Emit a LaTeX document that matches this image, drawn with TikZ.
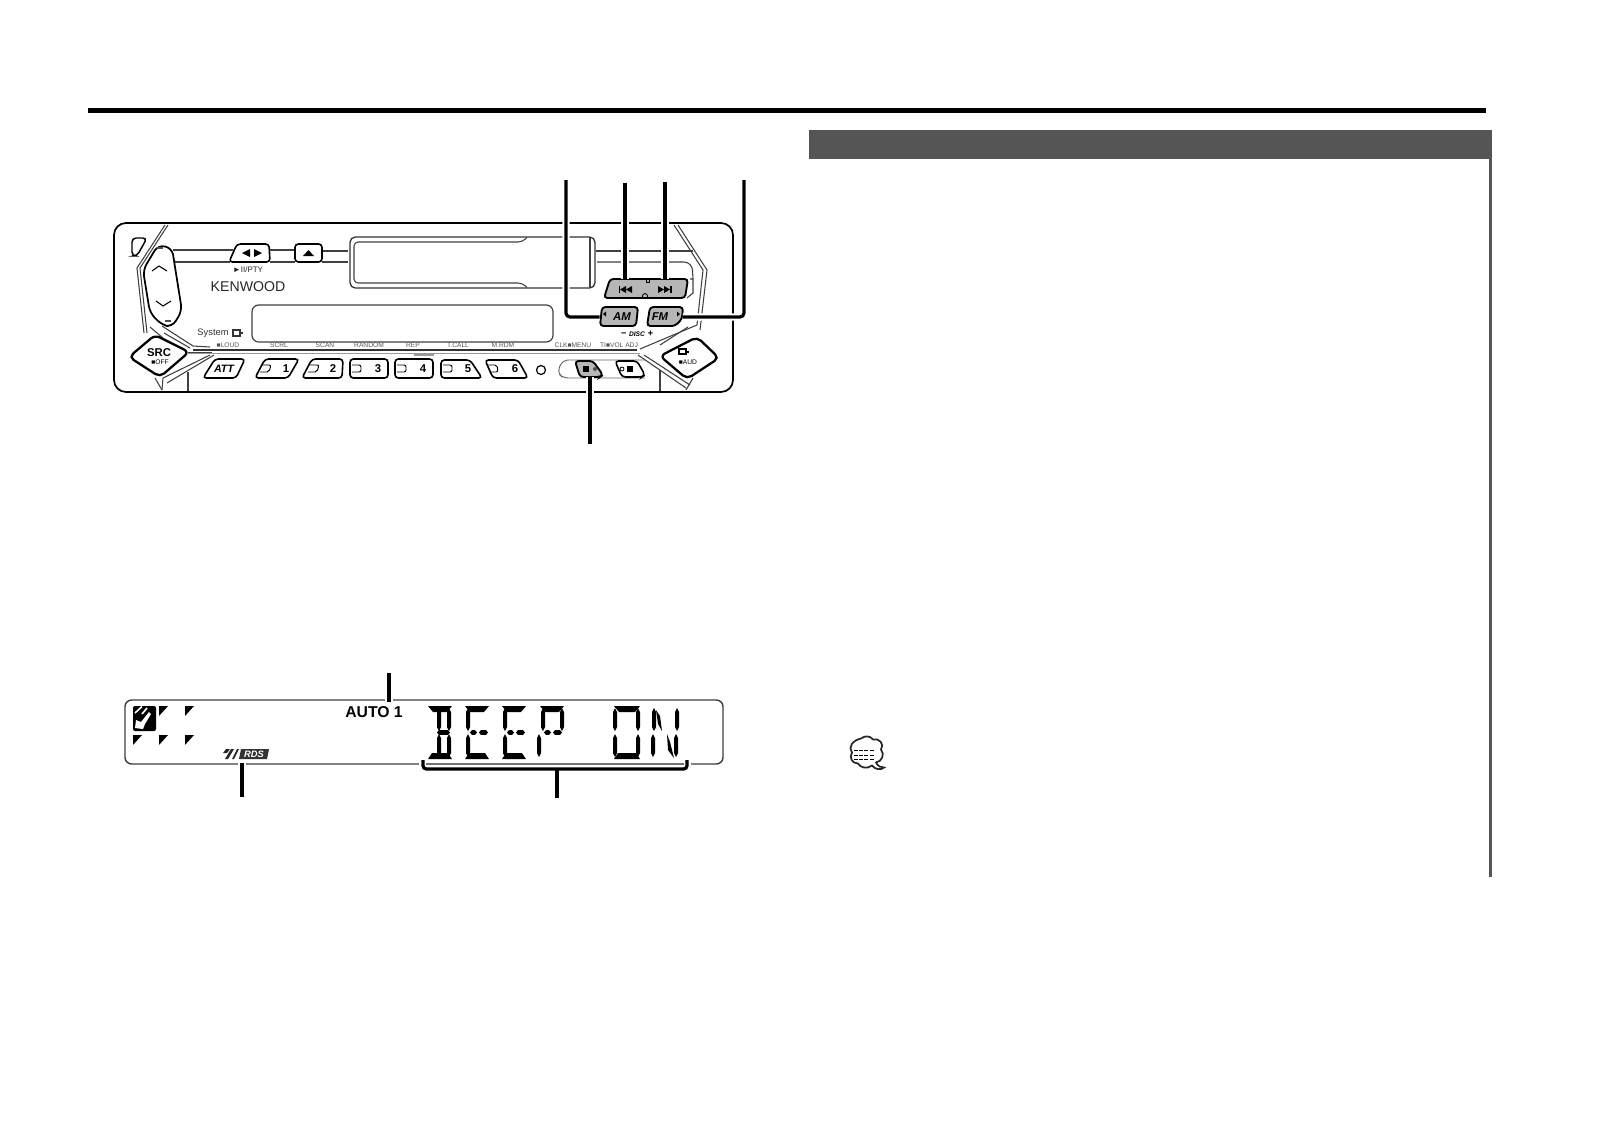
\documentclass[tikz,border=0pt]{standalone}
\usepackage{fontspec}
\setmainfont{Liberation Sans}
\usepackage{xcolor}
\definecolor{barcolor}{HTML}{555555}
\definecolor{keygray}{HTML}{B6B6B6}
\definecolor{printgray}{HTML}{555555}
\newcommand{\vseg}[3]{\fill (#1+2,#2) -- (#1+4,#2+4) -- (#1+4,#3-4) -- (#1+2,#3) -- (#1,#3-4) -- (#1,#2+4) -- cycle;}
\newcommand{\hseg}[3]{\fill (#1,#3) -- (#1+2,#3-2.4) -- (#2-2,#3-2.4) -- (#2,#3) -- (#2-2,#3+2.4) -- (#1+2,#3+2.4) -- cycle;}
\newcommand{\topseg}[2]{\fill (#1,706) -- (#2,706) -- (#2-5,712) -- (#1+5,712) -- cycle;}
\newcommand{\botseg}[2]{\fill (#1,759) -- (#2,759) -- (#2-4,753) -- (#1+4,753) -- cycle;}
\tikzset{
  casing/.style={line width=1.3pt,rounded corners=9pt},
  trim/.style={line width=0.8pt,color=black!75},
  keycap/.style={line width=1.2pt,rounded corners=2.5pt,fill=white},
  graycap/.style={line width=1.4pt,rounded corners=2.5pt,fill=keygray},
  keytext/.style={font=\fontsize{8.5}{9}\selectfont\bfseries,inner sep=0pt},
  capprint/.style={font=\fontsize{5}{6}\selectfont,color=printgray,inner sep=0pt},
  leader/.style={line width=2.4pt,rounded corners=3pt,preaction={draw=white,line width=5.5pt}},
}
\begin{document}
\begin{tikzpicture}[x=1pt*0.75,y=1pt*0.75,yscale=-1,xscale=1]
\useasboundingbox (0,0) rectangle (1604,1140);

%Page rule and side bar
\fill (88,108) rectangle (1486,113);
\fill [barcolor] (809,130) rectangle (1492,159);
\fill [barcolor] (1489,159) rectangle (1492,877);

%Casing
\draw [casing] (114,223) rectangle (733,392);
\draw [line width=1.1pt,rounded corners=3pt] (132,238) -- (147,238) -- (137,256) -- (132,256) -- cycle;

%Left trim
\draw [trim] (168,225) -- (140,268) -- (147,333);
\draw [trim] (165,225) -- (137,268) -- (144,333);
\draw [trim] (150,327) -- (163,338);
\draw [trim] (162,326) -- (193,346) -- (210,347);
\draw [trim] (164,333) -- (190,348);
\draw [trim] (188,353) -- (212,353);
\draw [trim] (163,378) -- (210,355);
\draw [trim] (167,383) -- (214,355);
\draw [trim] (155,378) -- (162,390);
\draw [trim] (163,378) -- (162,390);
\draw [trim] (188,372) -- (188,391);

%Right trim
\draw [trim] (678,225) -- (707,270) -- (700,330);
\draw [trim] (674,225) -- (703,270) -- (697,325);
\draw [trim] (697,325) -- (640,349);
\draw [trim] (688,327) -- (660,345);
\draw [trim] (638,355) -- (686,388);
\draw [trim] (644,355) -- (690,385);
\draw [trim] (693,378) -- (686,390);
\draw [trim] (660,370) -- (660,391);

%Mode lines between the cassette door and the keys
\draw [trim] (173,250) -- (233,250);
\draw [trim] (175,262) -- (230,262);
\draw [trim] (270,250) -- (295,250);
\draw [trim] (270,262) -- (295,262);
\draw [trim] (322,251) -- (348,251);
\draw [trim] (322,262) -- (348,262);
\draw [trim] (596,251) -- (693,251);
\draw [trim,rounded corners=6pt] (597,262) -- (692,262) -- (693,279);
\draw [trim] (690,279) -- (693,279) -- (693,293) -- (687,298);

%Cassette door
\draw [line width=1pt,color=black!80,rounded corners=4pt] (350,262) -- (350,237) -- (595,237) -- (595,288) -- (350,288) -- cycle;
\draw [trim,rounded corners=3pt] (527,237.5) -- (522,242) -- (354,242) -- (354,283) -- (522,283) -- (527,287.5);
\draw [trim,rounded corners=3pt] (590,237) -- (590,288);

%Window
\draw [line width=0.9pt,color=black!75,rounded corners=5pt] (252,305) rectangle (553,342);

%Long divider above the keys
\draw [line width=1.7pt,color=black!80] (193,350) -- (637,350);
\draw [line width=0.7pt,color=black!40] (188,353) -- (640,353);
\draw [line width=0.8pt,color=black!40] (414,355) -- (434,355);

%Volume key
\draw [line width=1.3pt,rounded corners=5pt,fill=white] (158,245) -- (172,248) -- (182,311) -- (172,327) -- (162,325) -- (150,313) -- (143,270) -- cycle;
\draw [line width=0.8pt] (152,271) -- (159,266) -- (167,271);
\draw [line width=0.8pt] (156,301) -- (163,306) -- (171,301);
\draw [line width=1pt,color=black!70] (157,248) -- (163,248);
\draw [line width=1pt,color=black!70] (165,321) -- (171,321);

%Source and audio keys
\draw [line width=1.7pt,rounded corners=4pt,fill=white] (129,357) -- (155,335) -- (189,352) -- (160,377) -- cycle;
\draw (159,353) node (srclabel) [keytext] {SRC};
\draw (160,362) node (offlabel) [capprint,color=black] {■OFF};
\draw [line width=1.7pt,rounded corners=4pt,fill=white] (660,356) -- (697,337) -- (719,358) -- (687,379) -- cycle;
\draw [line width=0.8pt] (679,349) rectangle (686,354) (686,352) -- (689,352);
\draw (688,362) node (audlabel) [capprint,color=black] {■AUD};

%Play and eject keys
\draw [keycap] (237,244) -- (269,244) -- (270,262) -- (229,262) -- cycle;
\fill (242,253) -- (250,249) -- (250,257) -- cycle;
\fill (254,249) -- (254,257) -- (262,253) -- cycle;
\draw [keycap] (295,244) rectangle (322,262);
\fill (303,256) -- (314,256) -- (308.5,250) -- cycle;
\draw (248,270) node (ptylabel) [capprint,color=black!85] {\fontsize{6}{6}\selectfont►II/PTY};

%Number keys
\draw [keycap] (215,359) -- (245,359) -- (236,378) -- (203,378) -- cycle;
\draw (224,369) node (attlabel) [keytext,font=\fontsize{8}{9}\selectfont\bfseries\itshape] {ATT};
\draw [keycap] (265,359) -- (299,359) -- (288,378) -- (255,378) -- cycle;
\draw [keycap] (312,359) -- (343,359) -- (342,378) -- (302,378) -- cycle;
\draw [keycap] (350,359) rectangle (388,378);
\draw [keycap] (395,359) rectangle (433,378);
\draw [keycap] (441,360) -- (470,360) -- (482,378) -- (441,378) -- cycle;
\draw [keycap] (485,360) -- (518,360) -- (528,378) -- (493,378) -- cycle;
\foreach \hx/\tilt in {260/2,308/2,352/0,397/0,443/0,489/-1}
  \draw [line width=0.7pt,rounded corners=1.5pt] (\hx+\tilt,365) -- (\hx+9+\tilt,365) -- (\hx+9,372) -- (\hx,372);
\foreach \kx/\kn in {286/1,333/2,378/3,423/4,468/5,515/6}
  \draw (\kx,369) node (key\kn) [keytext] {\kn};
\draw [line width=0.9pt] (541,370) circle (4.5);

%Clock and menu keys
\draw [line width=0.7pt,color=black!60,rounded corners=4pt] (645,360) -- (563,360) -- (557,372) -- (563,378) -- (645,378);
\draw [graycap] (575,361) -- (593,361) -- (603,375) -- (600,377) -- (580,377) -- cycle;
\fill (583,366) rectangle (589,372);
\fill [black!70] (595,369) circle (2);
\draw [keycap] (615,361) -- (637,361) -- (645,375) -- (642,377) -- (622,377) -- cycle;
\draw [line width=0.6pt] (622,369) circle (2);
\fill (627,366) rectangle (633,372);

%Tuning keys
\draw [graycap] (610,279) -- (688,279) -- (685,298) -- (604,298) -- cycle;
\fill (619,286) rectangle (620,293);
\fill (620,289.5) -- (626,286) -- (626,293) -- cycle;
\fill (626,289.5) -- (632,286) -- (632,293) -- cycle;
\fill (658,286) -- (664,289.5) -- (658,293) -- cycle;
\fill (664,286) -- (670,289.5) -- (664,293) -- cycle;
\fill (670,286) rectangle (671.5,293);
\draw [line width=0.6pt] (646,279) -- (646,282) -- (649,282) -- (649,279);
\draw [line width=0.6pt] (642,298) .. controls (642,292) and (648,292) .. (648,298);

%Band keys
\draw [graycap] (602,307) -- (638,307) -- (636,326) -- (600,326) -- cycle;
\draw [graycap] (650,307) -- (683,307) -- (682,319) -- (675,326) -- (647,326) -- cycle;
\draw (622,317) node (amkey) [keytext,font=\fontsize{8.5}{9}\selectfont\bfseries\itshape,minimum width=33,minimum height=14] {AM};
\draw (660,317) node (fmkey) [keytext,font=\fontsize{8.5}{9}\selectfont\bfseries\itshape,minimum width=34,minimum height=14] {FM};
\fill (603,314) -- (606,311.5) -- (606,316.5) -- cycle;
\fill (680,314) -- (677,311.5) -- (677,316.5) -- cycle;
\draw (637,334) node (disclabel) [capprint,color=black] {\fontsize{7}{7}\selectfont\bfseries\itshape − {\fontsize{5}{5}\selectfont DISC} +};

% Text Node
\draw (248,287) node (brand) [inner sep=0pt,color=black!85,font=\fontsize{10.6}{11}\selectfont] {KENWOOD};
\draw (213,333) node (systemlabel) [inner sep=0pt,font=\fontsize{7}{8}\selectfont,color=black!80] {System};
\draw [line width=0.8pt,color=black!80] (233,330) rectangle (240,336) (240,333) -- (243,333);
\draw (228,345) node (loudlabel) [capprint] {■LOUD};
\draw (279,345) node (scrllabel) [capprint] {SCRL};
\draw (325,345) node (scanlabel) [capprint] {SCAN};
\draw (369,345) node (rdmlabel) [capprint] {RANDOM};
\draw (413,345) node (replabel) [capprint] {REP};
\draw (458,345) node (calllabel) [capprint] {T.CALL};
\draw (503,345) node (mrdmlabel) [capprint] {M.RDM};
\draw (573,345) node (clklabel) [capprint] {CLK■MENU};
\draw (619,345) node (volabel) [capprint] {TI■VOL ADJ};

%Leaders of the cassette panel
\coordinate (amlead) at (566,180);
\coordinate (tuneleft) at (625,183);
\coordinate (tunelefttop) at (625,279);
\coordinate (tuneright) at (665,182);
\coordinate (tunerighttop) at (665,279);
\coordinate (fmlead) at (744,180);
\coordinate (menulead) at (590,444);
\coordinate (menukey) at (590,377);
\draw [leader] (amlead) |- (amkey.west);
\draw [leader] (tuneleft) -- (tunelefttop);
\draw [leader] (tuneright) -- (tunerighttop);
\draw [leader] (fmlead) |- (fmkey.east);
\draw [leader] (menulead) -- (menukey);

%Display
\draw [line width=1.1pt,color=black!75,rounded corners=5pt] (125,700) rectangle (723,764);
\fill [white] (419,761) rectangle (691,767);
\draw [line width=0.8pt,color=black!55] (426,764) -- (684,764);

%Band icon and marks
\fill [rounded corners=1.5pt] (133,706) rectangle (156,731);
\draw [white,line width=1.2pt] (135,713) -- (142,706.5);
\draw [white,line width=1.2pt] (142,714) -- (147,708);
\fill [white] (135,728) -- (136,720) -- (141,722) -- (149,712) -- (151,714) -- (145,724) -- (143,729) -- cycle;
\foreach \tx/\ty in {159/706,185/706,133/735,159/735,185/735}
  \fill (\tx,\ty) -- (\tx+9,\ty) -- (\tx,\ty+10) -- cycle;

%RDS mark
\fill [black!85] (225,759) -- (231,749) -- (234,749) -- (228,759) -- cycle;
\fill [black!85] (223,753) -- (226,749) -- (230,749) -- (227,753) -- cycle;
\fill [black!85] (232,759) -- (237,749) -- (239,749) -- (234,759) -- cycle;
\fill [black!80] (241,749) -- (269,749) -- (267,759) -- (239,759) -- cycle;
\draw (254,754) node (rdstext) [inner sep=0pt,white,font=\fontsize{7}{7}\selectfont\bfseries\itshape] {RDS};
\draw (374,712) node (autotext) [inner sep=0pt,font=\fontsize{11.8}{12}\selectfont\bfseries] {AUTO 1};

%Character B
\topseg{428}{452}
\botseg{428}{452}
\vseg{437}{708}{731}
\vseg{437}{734}{757}
\vseg{447}{708}{731}
\vseg{447}{734}{757}
\hseg{437}{450}{732.5}
%Character E
\topseg{465}{489}
\botseg{465}{489}
\vseg{466}{708}{731}
\vseg{466}{734}{757}
\hseg{470}{477}{732.5}
\hseg{479}{488}{732.5}
%Character E
\topseg{502}{526}
\botseg{502}{526}
\vseg{503}{708}{731}
\vseg{503}{734}{757}
\hseg{507}{514}{732.5}
\hseg{516}{525}{732.5}
%Character P
\topseg{540}{564}
\vseg{541}{708}{731}
\vseg{537}{734}{757}
\vseg{560}{708}{731}
\hseg{544}{551}{732.5}
\hseg{553}{562}{732.5}
%Character O
\topseg{614}{640}
\botseg{614}{640}
\vseg{613}{708}{731}
\vseg{613}{734}{757}
\vseg{636}{708}{731}
\vseg{636}{734}{757}
%Character N
\vseg{652}{708}{731}
\vseg{651}{734}{757}
\vseg{675}{708}{731}
\vseg{674}{734}{757}
\fill (656,710) -- (660,716) -- (662,731) -- (658,724) -- cycle;
\fill (667,734) -- (670,742) -- (674,758) -- (668,750) -- cycle;

%Leaders of the display
\coordinate (autolead) at (389,673);
\coordinate (autoend) at (389,702);
\coordinate (rdslead) at (242,797);
\coordinate (rdsend) at (242,763);
\coordinate (msglead) at (557,798);
\coordinate (msgend) at (557,769);
\coordinate (msgleft) at (423,760);
\coordinate (msgright) at (687,760);
\draw [leader] (autolead) -- (autoend);
\draw [leader] (rdslead) -- (rdsend);
\draw [line width=2.4pt,rounded corners=2.5pt] (msgleft) |- (msgright |- msgend) -- (msgright);
\draw [line width=2.4pt] (msglead) -- (msgend);

%Note icon
\begin{scope}[shift={(-3,2.5)}]
\draw [line width=1.3pt,color=black!85] (864,736) .. controls (868,733) and (873,733) .. (876,737) .. controls (882,735) and (888,742) .. (884,747) .. controls (888,752) and (885,759) .. (879,760) .. controls (881,764) and (884,765) .. (887,765) .. controls (884,768) and (878,767) .. (875,763) .. controls (870,767) and (863,765) .. (861,761) .. controls (855,761) and (852,755) .. (855,750) .. controls (851,745) and (855,738) .. (864,736) -- cycle;
\foreach \ny in {748,753,757}
  \draw [line width=1pt,dash pattern={on 3pt off 0.9pt}] (857,\ny) -- (877,\ny);
\end{scope}

\end{tikzpicture}
\end{document}
